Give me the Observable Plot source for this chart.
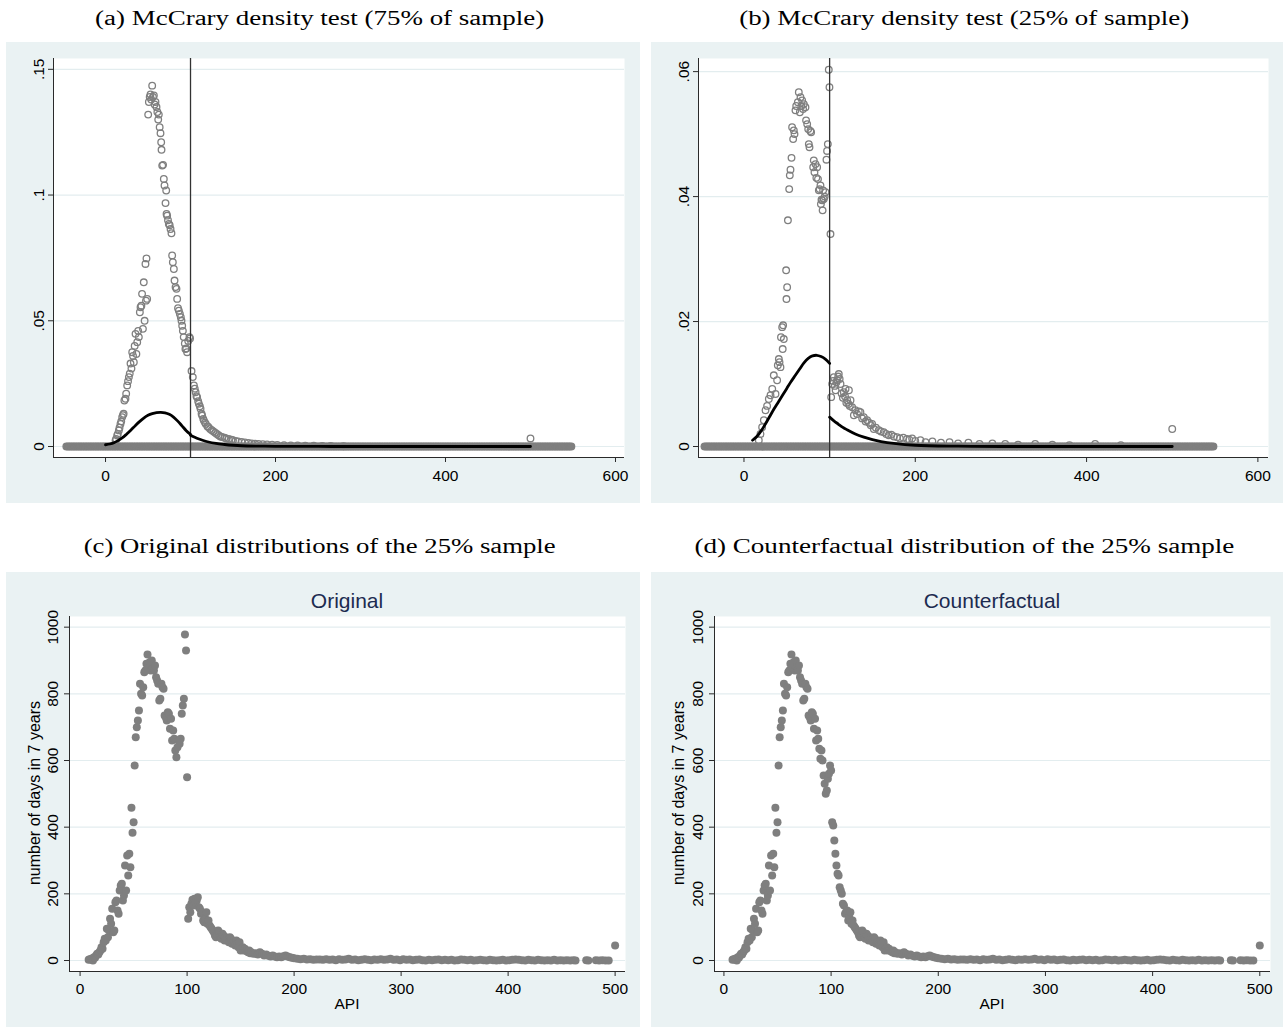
<!DOCTYPE html>
<html><head><meta charset="utf-8">
<script src="https://cdn.jsdelivr.net/npm/d3@7"></script>
<script src="https://cdn.jsdelivr.net/npm/@observablehq/plot@0.6"></script>
<style>
html,body{margin:0;padding:0;background:#fff}
body{width:1283px;height:1029px;position:relative;overflow:hidden;font-family:"Liberation Sans",Arial,sans-serif}
.panel{position:absolute;background:#eaf2f3}
.panel svg{display:block;overflow:visible}
.sub{position:absolute;font-family:"Liberation Serif","Times New Roman",serif;font-size:20px;line-height:20px;white-space:nowrap;color:#000;transform-origin:50% 50%}
.gtitle{position:absolute;font-size:21px;line-height:21px;color:#1c2b50;white-space:nowrap;transform:translateX(-50%)}
.ylab{position:absolute;font-size:16px;line-height:16px;white-space:nowrap;transform:translate(-50%,-50%) rotate(-90deg)}
.xlab{position:absolute;font-size:15.5px;line-height:15.5px;white-space:nowrap;transform:translateX(-50%)}
</style></head><body>
<div id="pa" class="panel" style="left:6px;top:42px;width:634px;height:461px"></div>
<div id="pb" class="panel" style="left:651px;top:42px;width:632px;height:461px"></div>
<div id="pc" class="panel" style="left:6px;top:572px;width:634px;height:455px"></div>
<div id="pd" class="panel" style="left:651px;top:572px;width:632px;height:455px"></div>

<div class="sub" data-center="320" data-w="449" style="top:8px">(a) McCrary density test (75% of sample)</div>
<div class="sub" data-center="964" data-w="450" style="top:8px">(b) McCrary density test (25% of sample)</div>
<div class="sub" data-center="320" data-w="472" style="top:536px">(c) Original distributions of the 25% sample</div>
<div class="sub" data-center="964" data-w="540" style="top:536px">(d) Counterfactual distribution of the 25% sample</div>

<div class="gtitle" style="left:347px;top:590px">Original</div>
<div class="gtitle" style="left:992px;top:590px">Counterfactual</div>
<div class="ylab" style="left:35px;top:793px">number of days in 7 years</div>
<div class="ylab" style="left:679px;top:793px">number of days in 7 years</div>
<div class="xlab" style="left:347px;top:996px">API</div>
<div class="xlab" style="left:992px;top:996px">API</div>

<script>
// ---------------- data ----------------
const cutoff = 100;
const zeroBinDensity = 0;
// bins with zero density (drawn as the grey band along y = 0)
const zeroBins = [-46,-44,-42,-40,-38,-36,-34,-32,-30,-28,-26,-24,-22,-20,-18,-16,-14,-12,-10,-8,-6,-4,-2,0,2,4,6,8,10,12,14,16,18,20,22,24,26,28,30,32,34,36,38,40,42,44,46,48,50,52,54,56,58,60,62,64,66,68,70,72,74,76,78,80,82,84,86,88,90,92,94,96,98,100,102,104,106,108,110,112,114,116,118,120,122,124,126,128,130,132,134,136,138,140,142,144,146,148,150,152,154,156,158,160,162,164,166,168,170,172,174,176,178,180,182,184,186,188,190,192,194,196,198,200,202,204,206,208,210,212,214,216,218,220,222,224,226,228,230,232,234,236,238,240,242,244,246,248,250,252,254,256,258,260,262,264,266,268,270,272,274,276,278,280,282,284,286,288,290,292,294,296,298,300,302,304,306,308,310,312,314,316,318,320,322,324,326,328,330,332,334,336,338,340,342,344,346,348,350,352,354,356,358,360,362,364,366,368,370,372,374,376,378,380,382,384,386,388,390,392,394,396,398,400,402,404,406,408,410,412,414,416,418,420,422,424,426,428,430,432,434,436,438,440,442,444,446,448,450,452,454,456,458,460,462,464,466,468,470,472,474,476,478,480,482,484,486,488,490,492,494,496,498,500,502,504,506,508,510,512,514,516,518,520,522,524,526,528,530,532,534,536,538,540,542,544,546,548];

// (a) McCrary density, 75% sample: [API bin, density]
const mcCrary75 = [[11.8,0.0024],[12.5,0.003],[13.7,0.0044],[14.5,0.005],[15.7,0.0064],[16.5,0.0075],[17.6,0.009],[18.5,0.010],[19.6,0.0117],[20.5,0.0125],[21.3,0.013],[22.2,0.0183],[23.5,0.019],[24.3,0.021],[25.5,0.0243],[26.5,0.026],[27.5,0.0276],[28.5,0.029],[29.4,0.033],[30.5,0.031],[31.4,0.0375],[32.4,0.036],[33.3,0.0335],[34.3,0.040],[35.3,0.0448],[36.3,0.0368],[37.3,0.0415],[38.4,0.046],[39.2,0.0435],[40.4,0.0534],[41.2,0.0554],[42.2,0.056],[43,0.0607],[44,0.0468],[45,0.0653],[46,0.050],[47,0.0726],[47.6,0.058],[48.2,0.0748],[49,0.0587],[50.2,0.132],[51,0.137],[52,0.139],[52.9,0.140],[53.8,0.138],[54.9,0.1435],[55.8,0.139],[56.9,0.1396],[57.8,0.136],[58.8,0.137],[60,0.135],[61,0.133],[62,0.130],[62.7,0.132],[63.7,0.127],[64.7,0.1246],[65.5,0.121],[65.9,0.118],[66.7,0.1117],[67.7,0.112],[68.6,0.1064],[69.4,0.1038],[70.6,0.0968],[71.4,0.1018],[71.8,0.0925],[72.5,0.0918],[73.5,0.090],[74.5,0.0885],[75.5,0.088],[76.5,0.0865],[77.6,0.0848],[78.4,0.076],[79.2,0.0733],[80.4,0.0706],[81.2,0.066],[82.4,0.0634],[83.5,0.0627],[84.3,0.0587],[85.3,0.055],[86.3,0.054],[87.5,0.0527],[88.6,0.0514],[89.4,0.050],[90.2,0.048],[91,0.046],[92,0.0435],[93.3,0.041],[94,0.0388],[95,0.039],[96,0.0375],[97.3,0.042],[98.8,0.0435],[99.5,0.043],[101.2,0.030],[102.7,0.0276],[104,0.0243],[105,0.023],[106,0.0216],[107,0.020],[107.8,0.0196],[109,0.018],[109.8,0.017],[111,0.016],[111.8,0.015],[113,0.013],[113.7,0.0123],[115,0.011],[115.7,0.0103],[117,0.0095],[118,0.009],[120,0.008],[121,0.0078],[123,0.007],[125,0.0065],[127,0.006],[129,0.0055],[131,0.005],[133,0.0045],[135,0.004],[137,0.0038],[140,0.0035],[142,0.0032],[145,0.003],[148,0.0027],[150,0.0025],[153,0.0022],[156,0.002],[160,0.0018],[164,0.0016],[168,0.0014],[172,0.0012],[176,0.0011],[180,0.001],[185,0.0009],[190,0.0008],[196,0.0007],[202,0.0006],[210,0.0005],[218,0.0004],[226,0.0004],[235,0.0003],[245,0.0003],[255,0.0002],[265,0.0002],[280,0.0001],[500,0.0032]];
const fit75Left = [[0,0.0007],[5,0.001],[10,0.0015],[15,0.0024],[20,0.0035],[25,0.005],[30,0.0066],[35,0.0083],[40,0.0099],[45,0.0113],[50,0.0124],[55,0.0131],[60,0.0135],[65,0.0136],[70,0.0134],[75,0.0128],[80,0.0117],[85,0.0101],[90,0.0082],[95,0.0063],[100,0.0048]];
const fit75Right = [[100,0.0045],[105,0.0037],[110,0.003],[115,0.0024],[120,0.0019],[130,0.0012],[140,0.0008],[150,0.0005],[160,0.0003],[180,0.00015],[200,0.00008],[250,0.00002],[300,0],[400,0],[500,0]];

// (b) McCrary density, 25% sample
const mcCrary25 = [[17.3,0.001],[19.3,0.002],[21.2,0.0031],[23.2,0.0042],[25.1,0.0058],[27,0.0065],[29,0.0076],[31,0.0082],[33,0.0092],[34.8,0.0114],[36.8,0.0084],[38.7,0.0106],[39.5,0.013],[40.7,0.014],[41.5,0.0135],[42.6,0.0127],[43.2,0.0175],[44.6,0.0191],[45.2,0.0156],[45.7,0.0194],[46.5,0.0172],[49.2,0.0282],[49.6,0.0236],[50.4,0.0255],[51.3,0.0362],[52.8,0.0412],[53.5,0.0434],[54.3,0.0443],[55.5,0.0462],[56.2,0.0511],[57.4,0.0492],[58.2,0.0506],[59,0.0500],[60.1,0.0538],[61,0.0545],[62.9,0.0551],[64,0.0567],[65.2,0.0535],[66,0.0559],[67,0.0545],[67.9,0.0554],[69,0.0540],[69.9,0.0548],[71.8,0.0543],[72.5,0.0522],[73.8,0.0516],[75,0.0508],[75.7,0.0484],[76.5,0.0479],[77.5,0.0505],[78.4,0.0503],[80.8,0.0447],[81.5,0.0458],[82.3,0.0439],[83.5,0.0452],[84.5,0.0430],[85.4,0.0447],[86.4,0.0428],[87.4,0.041],[88.3,0.0412],[89.3,0.0418],[89.8,0.0388],[90.5,0.0395],[91.3,0.0394],[91.8,0.0378],[92.4,0.041],[93.2,0.0396],[94.2,0.0400],[95.2,0.0407],[96.3,0.0459],[97,0.0473],[97.9,0.0484],[99,0.0603],[99.8,0.0575],[101,0.034],[101.8,0.0079],[103,0.010],[104,0.0105],[104.9,0.0111],[106,0.0097],[107,0.009],[108,0.0103],[108.8,0.0106],[110,0.0112],[110.7,0.0116],[111.7,0.0108],[112.7,0.010],[114,0.0085],[115.5,0.0078],[116.6,0.0087],[118,0.0080],[118.6,0.0092],[119.5,0.0070],[120.5,0.0074],[122,0.0068],[122.5,0.009],[123.5,0.0065],[124.4,0.0074],[126.3,0.0063],[128.3,0.005],[130,0.0058],[132,0.0052],[134,0.0056],[136,0.0055],[138,0.0045],[139.9,0.0047],[142,0.004],[143.8,0.0042],[146,0.0038],[148,0.0034],[149.6,0.0036],[151.6,0.0028],[154,0.003],[157.4,0.0026],[160,0.0024],[163.2,0.0023],[166,0.002],[169,0.0018],[172,0.0019],[175,0.0016],[178.8,0.0015],[182,0.0013],[186,0.0014],[190.4,0.0012],[193,0.0011],[196.3,0.0013],[200,0.0009],[206,0.001],[212,0.0007],[220,0.0008],[230,0.0006],[240,0.0007],[250,0.0005],[262,0.0006],[275,0.0004],[290,0.0005],[305,0.0004],[320,0.0003],[340,0.0004],[360,0.0003],[380,0.0002],[410,0.0004],[440,0.0002],[500,0.0028]];
const fit25Left = [[10,0.0010],[15,0.0016],[20,0.0025],[25,0.0036],[30,0.0048],[35,0.0060],[40,0.0071],[45,0.0082],[50,0.0093],[55,0.0104],[60,0.0114],[65,0.0124],[70,0.0134],[75,0.0141],[80,0.0145],[85,0.0146],[90,0.0144],[95,0.0140],[100,0.0133]];
const fit25Right = [[100,0.0047],[105,0.0041],[110,0.0036],[115,0.0031],[120,0.0027],[130,0.0020],[140,0.0015],[150,0.0011],[160,0.0008],[175,0.0005],[200,0.0002],[250,0.00005],[300,0],[400,0],[500,0]];

// (c) original distribution of the 25% sample: [API, number of days in 7 years]
const originalCounts = [[8,2],[9,4],[10,3],[11,6],[12,0],[13,10],[14,8],[15,15],[16,20],[17,18],[18,25],[19,30],[20,40],[21,35],[22,55],[23,65],[24,60],[25,95],[26,70],[27,90],[28,125],[29,110],[30,155],[31,85],[32,90],[33,175],[34,180],[35,150],[36,140],[37,210],[38,225],[39,230],[40,180],[41,195],[42,285],[43,210],[44,315],[45,255],[46,320],[47,280],[48,458],[49,383],[50,415],[51,585],[52,670],[53,700],[54,720],[55,750],[56,830],[57,800],[58,795],[59,820],[60,865],[61,870],[62,890],[63,918],[64,880],[65,895],[66,870],[67,900],[68,880],[69,870],[70,885],[71,850],[72,840],[73,830],[74,780],[75,785],[76,830],[77,820],[78,815],[79,735],[80,730],[81,720],[82,745],[83,740],[84,695],[85,725],[86,660],[87,690],[88,665],[89,630],[90,610],[91,640],[92,660],[93,650],[94,665],[95,740],[96,765],[97,785],[98,978],[99,930],[100,550],[101,125],[102,160],[103,145],[104,170],[105,182],[106,165],[107,185],[108,175],[109,180],[110,190],[111,160],[112,155],[113,140],[114,145],[115,120],[116,115],[117,125],[118,145],[119,110],[120,120],[121,105],[122,100],[123,95],[124,90],[125,85],[126,75],[127,70],[128,80],[129,90],[130,85],[131,70],[132,65],[133,80],[134,75],[135,60],[136,70],[137,65],[138,60],[139,55],[140,70],[141,65],[142,50],[143,55],[144,50],[145,45],[146,60],[147,50],[148,40],[149,55],[150,30],[151,35],[152,40],[153,30],[154,35],[155,30],[156,28],[157,25],[158,30],[159,22],[160,25],[162,20],[164,22],[166,18],[168,25],[170,20],[172,15],[174,18],[176,14],[178,12],[180,15],[182,12],[184,10],[186,12],[188,10],[190,13],[192,15],[194,12],[196,10],[198,8],[200,7],[203,5],[206,4],[209,5],[212,3],[215,4],[218,2],[221,3],[224,3],[227,2],[230,4],[233,2],[236,3],[239,1],[242,4],[245,2],[248,3],[251,5],[254,2],[257,3],[260,1],[263,2],[266,4],[269,2],[272,1],[275,3],[278,2],[281,4],[284,2],[287,3],[290,5],[293,2],[296,3],[299,1],[302,4],[305,2],[308,3],[311,1],[314,2],[317,3],[320,1],[323,0],[326,2],[329,1],[332,2],[335,3],[338,1],[341,2],[344,1],[347,2],[350,0],[353,1],[356,3],[359,2],[362,1],[365,2],[368,0],[371,1],[374,2],[377,1],[380,0],[383,2],[386,1],[389,0],[392,1],[395,2],[398,0],[401,1],[404,2],[407,3],[410,2],[413,1],[416,0],[419,2],[422,1],[425,0],[428,2],[431,1],[434,0],[437,1],[440,0],[443,2],[446,0],[449,1],[452,0],[455,1],[458,0],[461,1],[463,0],[473,1],[475,0],[482,1],[485,0],[488,1],[491,0],[494,0],[500,45]];
// (d) counterfactual counts replacing the original ones around the cutoff
const counterfactualRange = [86, 120];
const counterfactualCounts = [[86,660],[87,690],[88,665],[89,635],[90,605],[91,630],[92,600],[93,555],[94,530],[95,500],[96,510],[97,545],[98,560],[99,585],[100,570],[101,415],[102,405],[103,360],[104,320],[105,285],[106,260],[107,255],[108,220],[109,210],[110,200],[111,170],[112,165],[113,140],[114,145],[115,150],[116,120],[117,130],[118,145],[119,110],[120,120]];

const densityXTicks = [0, 200, 400, 600];
const density75YTicks = [0, 0.05, 0.1, 0.15];
const density25YTicks = [0, 0.02, 0.04, 0.06];
const apiTicks = [0, 100, 200, 300, 400, 500];
const daysTicks = [0, 200, 400, 600, 800, 1000];

// ---------------- drawing ----------------
const axisColor = "#2a2a2a";
const gray = "#7f7f7f";
const gridColor = "#e3edef";
const tickFont = 15.5;
const baseStyle = {background: "transparent", fontFamily: '"Liberation Sans", Arial, sans-serif', fontSize: "15.5px", color: "#000", overflow: "visible"};
const fmtDensity = d => d === 0 ? "0" : d3.format(".2~f")(d).replace(/^0\./, ".");

function densityPanel(c) {
  return Plot.plot({
    width: c.width, height: c.height,
    marginLeft: c.ml, marginRight: c.mr, marginTop: c.mt, marginBottom: c.mb,
    style: baseStyle,
    x: {domain: c.xDomain},
    y: {domain: c.yDomain},
    marks: [
      Plot.frame({fill: "white", stroke: "none"}),
      Plot.gridY(c.yTicks, {stroke: gridColor, strokeOpacity: 1, strokeWidth: 1.2}),
      Plot.dot(zeroBins, {x: d => d, y: () => zeroBinDensity, r: 3.4, stroke: gray, strokeWidth: 1.3, fill: gray}),
      Plot.dot(c.points, {x: d => d[0], y: d => d[1], r: 3.3, stroke: gray, strokeWidth: 1.3, fill: "none"}),
      Plot.ruleX([cutoff], {stroke: "#333", strokeWidth: 1.3}),
      Plot.line(c.fitLeft, {x: d => d[0], y: d => d[1], stroke: "#000", strokeWidth: 2.8, curve: "catmull-rom"}),
      Plot.line(c.fitRight, {x: d => d[0], y: d => d[1], stroke: "#000", strokeWidth: 2.8, curve: "catmull-rom"}),
      Plot.ruleX([c.xDomain[0]], {stroke: axisColor, strokeWidth: 1}),
      Plot.ruleY([c.yDomain[0]], {stroke: axisColor, strokeWidth: 1}),
      Plot.axisX(densityXTicks, {tickSize: 5, tickPadding: 7, stroke: axisColor, fontSize: tickFont, label: null}),
      Plot.axisY(c.yTicks, {tickSize: 5, tickPadding: 5, tickRotate: -90, tickFormat: fmtDensity, stroke: axisColor, fontSize: tickFont, label: null})
    ]
  });
}

function countPanel(c) {
  return Plot.plot({
    width: c.width, height: c.height,
    marginLeft: c.ml, marginRight: c.mr, marginTop: c.mt, marginBottom: c.mb,
    style: baseStyle,
    x: {domain: c.xDomain},
    y: {domain: c.yDomain},
    marks: [
      Plot.frame({fill: "white", stroke: "none"}),
      Plot.gridY(daysTicks, {stroke: gridColor, strokeOpacity: 1, strokeWidth: 1.2}),
      Plot.dot(c.points, {x: d => d[0], y: d => d[1], r: 4, fill: gray, stroke: "none"}),
      Plot.ruleX([c.xDomain[0]], {stroke: axisColor, strokeWidth: 1}),
      Plot.ruleY([c.yDomain[0]], {stroke: axisColor, strokeWidth: 1}),
      Plot.axisX(apiTicks, {tickSize: 5, tickPadding: 6, stroke: axisColor, fontSize: tickFont, label: null}),
      Plot.axisY(daysTicks, {tickSize: 5, tickPadding: 7, tickRotate: -90, tickFormat: d3.format("d"), stroke: axisColor, fontSize: tickFont, label: null})
    ]
  });
}

document.getElementById("pa").appendChild(densityPanel({
  width: 634, height: 461, ml: 47, mr: 16, mt: 16, mb: 46,
  xDomain: [-61.2, 610.6], yDomain: [-0.00437, 0.1543], yTicks: density75YTicks,
  points: mcCrary75, fitLeft: fit75Left, fitRight: fit75Right
}));
document.getElementById("pb").appendChild(densityPanel({
  width: 632, height: 461, ml: 47, mr: 15, mt: 16, mb: 46,
  xDomain: [-53.1, 612.4], yDomain: [-0.00176, 0.0621], yTicks: density25YTicks,
  points: mcCrary25, fitLeft: fit25Left, fitRight: fit25Right
}));
document.getElementById("pc").appendChild(countPanel({
  width: 634, height: 455, ml: 63, mr: 15, mt: 44, mb: 56,
  xDomain: [-9.9, 509.7], yDomain: [-33, 1032], points: originalCounts
}));
const counterfactualSeries = originalCounts
  .filter(([a]) => a < counterfactualRange[0] || a > counterfactualRange[1])
  .concat(counterfactualCounts);
document.getElementById("pd").appendChild(countPanel({
  width: 632, height: 455, ml: 63, mr: 13, mt: 44, mb: 56,
  xDomain: [-8.8, 510], yDomain: [-33, 1032], points: counterfactualSeries
}));

// fit the serif sub-captions to the widths of the reference
document.querySelectorAll(".sub").forEach(el => {
  const w = el.getBoundingClientRect().width;
  const target = +el.dataset.w;
  const s = target / w;
  el.style.left = (+el.dataset.center - w / 2) + "px";
  el.style.transform = `scaleX(${s})`;
});
</script>
</body></html>
